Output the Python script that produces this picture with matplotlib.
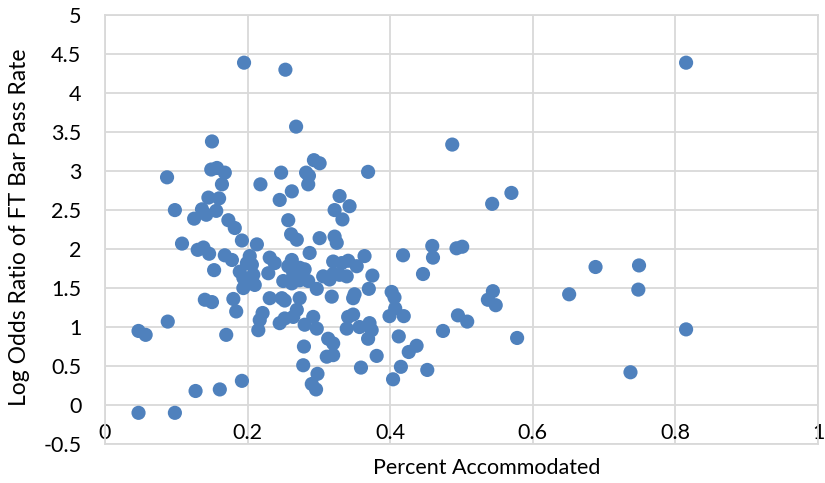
import matplotlib
matplotlib.use("Agg")
import matplotlib.pyplot as plt

plt.rcParams['font.family'] = ['Lato', 'DejaVu Sans']

# percent accommodated (x) and log odds ratio of FT bar pass rate (y)
pct_accommodated = [
    0.195, 0.253, 0.815, 0.268, 0.487, 0.150, 0.087, 0.149, 0.157, 0.168,
    0.164, 0.218, 0.247, 0.282, 0.286, 0.285, 0.293, 0.301, 0.262, 0.245,
    0.329, 0.343, 0.322, 0.333, 0.257, 0.098, 0.145, 0.160, 0.136, 0.142,
    0.156, 0.125, 0.173, 0.182, 0.261, 0.269, 0.322, 0.325, 0.301, 0.369,
    0.570, 0.543, 0.192, 0.108, 0.130, 0.138, 0.146, 0.168, 0.178, 0.153,
    0.140, 0.150, 0.180, 0.184, 0.088, 0.047, 0.057, 0.170, 0.192, 0.127,
    0.161, 0.047, 0.098, 0.213, 0.203, 0.199, 0.206, 0.189, 0.194, 0.208,
    0.201, 0.210, 0.194, 0.231, 0.238, 0.229, 0.287, 0.262, 0.257, 0.273,
    0.280, 0.264, 0.250, 0.262, 0.273, 0.285, 0.297, 0.306, 0.315, 0.329,
    0.339, 0.320, 0.332, 0.318, 0.231, 0.248, 0.252, 0.273, 0.269, 0.264,
    0.221, 0.217, 0.215, 0.245, 0.252, 0.280, 0.292, 0.297, 0.279, 0.313,
    0.320, 0.311, 0.320, 0.278, 0.298, 0.290, 0.296, 0.339, 0.341, 0.341,
    0.364, 0.353, 0.320, 0.375, 0.370, 0.350, 0.348, 0.348, 0.357, 0.371,
    0.374, 0.369, 0.359, 0.459, 0.460, 0.493, 0.501, 0.418, 0.446, 0.402,
    0.406, 0.544, 0.537, 0.548, 0.407, 0.399, 0.419, 0.495, 0.508, 0.474,
    0.412, 0.578, 0.437, 0.426, 0.381, 0.415, 0.452, 0.404, 0.651, 0.688,
    0.749, 0.748, 0.737, 0.815,
]
log_odds_ratio = [
    4.39, 4.30, 4.39, 3.57, 3.34, 3.38, 2.92, 3.02, 3.04, 2.98,
    2.83, 2.83, 2.98, 2.98, 2.94, 2.83, 3.14, 3.10, 2.74, 2.63,
    2.68, 2.55, 2.50, 2.38, 2.37, 2.50, 2.66, 2.65, 2.51, 2.44,
    2.49, 2.39, 2.37, 2.27, 2.19, 2.12, 2.16, 2.08, 2.14, 2.99,
    2.72, 2.58, 2.11, 2.07, 1.99, 2.02, 1.94, 1.92, 1.86, 1.73,
    1.35, 1.32, 1.36, 1.20, 1.07, 0.95, 0.90, 0.90, 0.31, 0.18,
    0.20, -0.10, -0.10, 2.06, 1.91, 1.82, 1.80, 1.71, 1.63, 1.67,
    1.56, 1.54, 1.50, 1.89, 1.82, 1.69, 1.95, 1.86, 1.78, 1.76,
    1.74, 1.69, 1.59, 1.56, 1.60, 1.59, 1.49, 1.65, 1.61, 1.67,
    1.65, 1.84, 1.82, 1.39, 1.37, 1.37, 1.34, 1.37, 1.22, 1.13,
    1.18, 1.09, 0.96, 1.05, 1.11, 1.03, 1.13, 0.98, 0.75, 0.85,
    0.79, 0.62, 0.64, 0.51, 0.40, 0.27, 0.20, 0.98, 1.13, 1.85,
    1.91, 1.78, 1.68, 1.66, 1.49, 1.42, 1.37, 1.16, 1.00, 1.05,
    0.96, 0.85, 0.48, 2.04, 1.89, 2.01, 2.03, 1.92, 1.68, 1.45,
    1.38, 1.46, 1.35, 1.28, 1.24, 1.14, 1.14, 1.15, 1.07, 0.95,
    0.88, 0.86, 0.76, 0.68, 0.63, 0.49, 0.45, 0.33, 1.42, 1.77,
    1.79, 1.48, 0.42, 0.97,
]

x_ticks = [0, 0.2, 0.4, 0.6, 0.8, 1]
x_tick_labels = ["0", "0.2", "0.4", "0.6", "0.8", "1"]
y_ticks = [-0.5, 0, 0.5, 1, 1.5, 2, 2.5, 3, 3.5, 4, 4.5, 5]
y_tick_labels = ["-0.5", "0", "0.5", "1", "1.5", "2", "2.5", "3", "3.5", "4", "4.5", "5"]

fig = plt.figure(figsize=(8.25, 4.83), dpi=100)
ax = fig.add_axes([0.1273, 0.0807, 0.8642, 0.888])

ax.scatter(pct_accommodated, log_odds_ratio, s=104, color="#4F81BD",
           edgecolors="none", zorder=3)

ax.set_xlim(0, 1)
ax.set_ylim(-0.5, 5)
ax.set_xticks(x_ticks)
ax.set_xticklabels(x_tick_labels)
ax.set_yticks(y_ticks)
ax.set_yticklabels(y_tick_labels)
ax.grid(True, color="#D9D9D9", linewidth=1.3, zorder=0)
ax.set_axisbelow(True)
for side in ax.spines:
    ax.spines[side].set_color("#D9D9D9")
    ax.spines[side].set_linewidth(1.3)

ax.tick_params(axis="both", length=0, labelsize=15.5, colors="black")
ax.tick_params(axis="x", pad=-15)
ax.tick_params(axis="y", pad=17)

ax.set_xlabel("Percent Accommodated", fontsize=15.5)
ax.xaxis.set_label_coords(0.535, -0.033)
ax.set_ylabel("Log Odds Ratio of FT Bar Pass Rate", fontsize=16.5)
ax.yaxis.set_label_coords(-0.105, 0.505)

fig.savefig("out.png", dpi=100)
